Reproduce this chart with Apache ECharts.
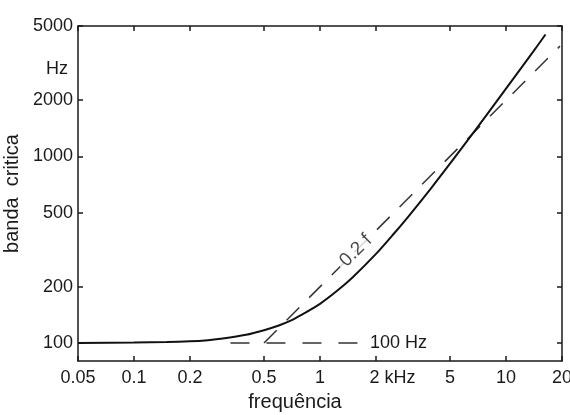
<!DOCTYPE html>
<html>
<head>
<meta charset="utf-8">
<script src="https://cdn.jsdelivr.net/npm/echarts@6/dist/echarts.min.js"></script>
<style>html,body{margin:0;padding:0;background:#fff;}#c{width:570px;height:415px;}</style>
</head>
<body>
<div id="c"></div>
<script>
// Frequency (kHz) and critical bandwidth (Hz)
const freqKHz = [0.05, 0.1, 0.15, 0.2, 0.25, 0.3, 0.4, 0.5, 0.6, 0.7, 0.8, 1, 1.25, 1.5, 2, 2.5, 3, 4, 5, 6, 7, 8, 10, 12, 14, 16.3];
const bandHz  = [100, 100.5, 101, 102, 103.5, 105.5, 110.5, 117, 124, 132, 142, 162, 192, 225, 300, 386, 479, 685, 914, 1162, 1426, 1705, 2306, 2953, 3645, 4500];
// Asymptote 0.2 f
const lineFreq = [0.5, 19.5];
const lineBand = [100, 3900];
// Asymptote 100 Hz
const flatFreq = [0.33, 1.6];
const flatBand = [100, 100];
// Tick labels
const xTicks = [0.05, 0.1, 0.2, 0.5, 1, 2, 5, 10, 20];
const yTicks = [100, 200, 500, 1000, 2000, 5000];
const yUnitAt = 2950;
const labelPos = [1.56, 312];

const FONT = 'Liberation Sans';
const INK = '#1a1a1a';

const pairs = (a, b) => a.map((v, i) => [v, b[i]]);

const chart = echarts.init(document.getElementById('c'));

const xBase = {
  type: 'log', logBase: 10, min: 0.05, max: 20,
  axisLine: { show: true, lineStyle: { color: INK, width: 1.5 } },
  axisTick: { show: true, inside: true, length: 5, lineStyle: { color: INK, width: 1.5 }, customValues: xTicks },
  splitLine: { show: false },
  minorTick: { show: false }
};
const yBase = {
  type: 'log', logBase: 10, min: 80, max: 5000,
  axisLine: { show: true, lineStyle: { color: INK, width: 1.5 } },
  axisTick: { show: true, inside: true, length: 5, lineStyle: { color: INK, width: 1.5 }, customValues: yTicks },
  splitLine: { show: false },
  minorTick: { show: false }
};

chart.setOption({
  animation: false,
  backgroundColor: '#fff',
  grid: { left: 78, right: 8, top: 26, bottom: 54, containLabel: false, outerBoundsMode: 'none' },
  xAxis: [
    Object.assign({}, xBase, {
      position: 'bottom',
      name: 'frequência', nameLocation: 'middle', nameGap: 31,
      nameTextStyle: { fontFamily: FONT, fontSize: 20, color: INK, padding: [0, 50, 0, 0] },
      axisLabel: {
        show: true, customValues: xTicks, margin: 8,
        fontFamily: FONT, fontSize: 18, color: INK,
        formatter: v => {
          const s = String(+(+v).toPrecision(3));
          return s === '2' ? '{k|2 kHz}' : s;
        },
        rich: { k: { fontFamily: FONT, fontSize: 18, color: INK, padding: [0, 0, 0, 33] } }
      }
    }),
    Object.assign({}, xBase, { position: 'top', axisLabel: { show: false } })
  ],
  yAxis: [
    Object.assign({}, yBase, {
      position: 'left',
      name: 'banda  critica', nameLocation: 'middle', nameGap: 53, nameRotate: 90,
      nameTextStyle: { fontFamily: FONT, fontSize: 20, color: INK },
      axisLabel: {
        show: true, customValues: yTicks.concat([yUnitAt]), margin: 5,
        fontFamily: FONT, fontSize: 18, color: INK,
        formatter: v => {
          const n = Math.round(+v);
          return n === yUnitAt ? '{u|Hz}' : String(n);
        },
        rich: { u: { fontFamily: FONT, fontSize: 18, color: INK, padding: [0, 5, 0, 0] } }
      }
    }),
    Object.assign({}, yBase, { position: 'right', axisLabel: { show: false } })
  ],
  series: [
    {
      type: 'line', name: 'critical band',
      data: pairs(freqKHz, bandHz),
      smooth: 0.3, showSymbol: false,
      lineStyle: { color: '#111', width: 2 },
      z: 3
    },
    {
      type: 'line', name: '0.2 f',
      data: pairs(lineFreq, lineBand),
      showSymbol: false,
      lineStyle: { color: '#333', width: 1.5, type: [18, 14] },
      z: 2
    },
    {
      type: 'line', name: '100 Hz',
      data: pairs(flatFreq, flatBand),
      showSymbol: false,
      lineStyle: { color: '#333', width: 1.5, type: [19, 17] },
      endLabel: { show: true, formatter: '100 Hz', distance: 12, fontFamily: FONT, fontSize: 18, color: INK },
      z: 2
    },
    {
      type: 'scatter', name: 'label',
      data: [labelPos],
      symbolSize: 1,
      itemStyle: { color: 'rgba(0,0,0,0)' },
      label: {
        show: true, position: 'inside', formatter: '0.2 f', rotate: 45,
        fontFamily: FONT, fontSize: 19, color: INK,
        backgroundColor: '#fff', padding: [0, 4]
      },
      z: 4
    }
  ]
});
</script>
</body>
</html>
